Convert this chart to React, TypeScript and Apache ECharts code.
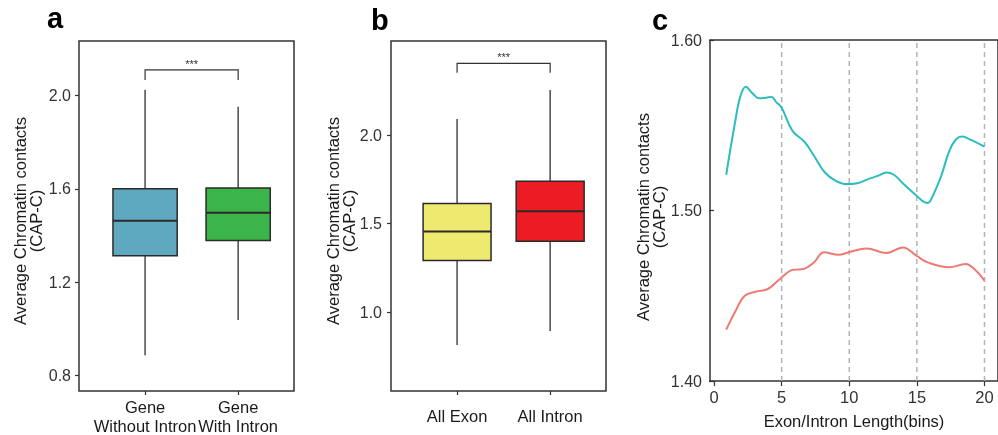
import React, { useEffect, useRef } from 'react';
import * as echarts from 'echarts';

// ---------- Panel a ----------
const catsA = ['Gene\nWithout Intron', 'Gene\nWith Intron'];
// [lower whisker, Q1, median, Q3, upper whisker]
const statsA = [
  [0.886, 1.313, 1.463, 1.600, 2.026],
  [1.037, 1.378, 1.497, 1.604, 1.953],
];
const colorsA = ['#5fa9c0', '#3bb54a'];
const ticksA = [0.8, 1.2, 1.6, 2.0];
const rangeA = [0.732, 2.235];
const bracketA = [1, 2, 2.111, 2.068];

// ---------- Panel b ----------
const catsB = ['All Exon', 'All Intron'];
const statsB = [
  [0.814, 1.291, 1.455, 1.613, 2.090],
  [0.893, 1.400, 1.569, 1.739, 2.254],
];
const colorsB = ['#eeea6f', '#ed1c24'];
const ticksB = [1.0, 1.5, 2.0];
const rangeB = [0.554, 2.531];
const bracketB = [1, 2, 2.405, 2.352];

const sigLabel = '***';
const yTitle = 'Average Chromatin contacts\n(CAP-C)';

// ---------- Panel c ----------
const xTitleC = 'Exon/Intron Length(bins)';
const ticksCx = [0, 5, 10, 15, 20];
const ticksCy = [1.4, 1.5, 1.6];
const gridLinesC = [5, 10, 15, 20];
const tealLine = [
  [0.9, 1.521], [1.55, 1.5516], [1.95, 1.5671], [2.35, 1.5726], [2.8, 1.5691],
  [3.35, 1.5658], [3.85, 1.5662], [4.25, 1.5666], [4.6, 1.5636], [5.0, 1.5603],
  [5.8, 1.5467], [6.7, 1.5402], [7.4, 1.532], [8.2, 1.5223], [9.0, 1.5174],
  [9.8, 1.5155], [10.6, 1.516], [11.4, 1.5184], [12.1, 1.5203], [12.75, 1.5223],
  [13.3, 1.521], [13.9, 1.5165], [14.5, 1.512], [15.0, 1.5086], [15.4, 1.5057],
  [15.8, 1.5044], [16.2, 1.509], [16.8, 1.5203], [17.4, 1.535], [17.9, 1.5418],
  [18.35, 1.5434], [19.0, 1.5414], [20.0, 1.5375],
];
const salmonLine = [
  [0.9, 1.4302], [1.6, 1.4413], [2.27, 1.4501], [3.12, 1.4525], [3.97, 1.454],
  [4.88, 1.4599], [5.8, 1.4652], [6.66, 1.4658], [7.4, 1.4697], [8.12, 1.4755],
  [9.22, 1.4741], [9.95, 1.4755], [11.29, 1.4778], [12.75, 1.4751], [13.97, 1.4784],
  [14.97, 1.4735], [15.8, 1.4696], [17.39, 1.4667], [18.6, 1.4687], [19.3, 1.4653],
  [20.0, 1.4589],
];

const FONT = '"Liberation Sans", Arial, Helvetica, sans-serif';
const TICK_COLOR = '#333';
const TITLE_COLOR = '#1a1a1a';

function boxRender(colors: string[], halfW: number) {
  return (params: any, api: any) => {
    const x = api.value(0);
    const low = api.coord([x, api.value(1)]);
    const q1 = api.coord([x, api.value(2)]);
    const med = api.coord([x, api.value(3)]);
    const q3 = api.coord([x, api.value(4)]);
    const high = api.coord([x, api.value(5)]);
    const left = api.coord([x - halfW, api.value(3)])[0];
    const right = api.coord([x + halfW, api.value(3)])[0];
    const cx = low[0];
    return {
      type: 'group',
      children: [
        { type: 'line', shape: { x1: cx, y1: high[1], x2: cx, y2: q3[1] }, style: { stroke: '#555', lineWidth: 1.6 } },
        { type: 'line', shape: { x1: cx, y1: q1[1], x2: cx, y2: low[1] }, style: { stroke: '#555', lineWidth: 1.6 } },
        {
          type: 'rect',
          shape: { x: left, y: q3[1], width: right - left, height: q1[1] - q3[1] },
          style: { fill: colors[params.dataIndex], stroke: '#2a2a2a', lineWidth: 1.5 },
        },
        { type: 'line', shape: { x1: left, y1: med[1], x2: right, y2: med[1] }, style: { stroke: '#2a2a2a', lineWidth: 2 } },
      ],
    };
  };
}

function bracketRender(params: any, api: any) {
  const x1 = api.value(0), x2 = api.value(1), y = api.value(2), d = api.value(3);
  const p1 = api.coord([x1, d]);
  const p2 = api.coord([x1, y]);
  const p3 = api.coord([x2, y]);
  const p4 = api.coord([x2, d]);
  return {
    type: 'group',
    children: [
      { type: 'polyline', shape: { points: [p1, p2, p3, p4] }, style: { stroke: '#333', lineWidth: 1.2, fill: null } },
      {
        type: 'text',
        x: (p2[0] + p3[0]) / 2,
        y: p2[1] - 0.5,
        style: { text: sigLabel, fontSize: 11, fontFamily: FONT, align: 'center', verticalAlign: 'bottom', fill: '#333' },
      },
    ],
  };
}

function gridLineRender(params: any, api: any) {
  const v = api.value(0);
  const a = api.coord([v, ticksCy[0]]);
  const b = api.coord([v, ticksCy[ticksCy.length - 1]]);
  return {
    type: 'line',
    shape: { x1: a[0], y1: a[1], x2: b[0], y2: b[1] },
    style: { stroke: '#b3b3b3', lineWidth: 1.5, lineDash: [5, 4] },
  };
}

function yAxisCfg(gridIndex: number, range: number[], ticks: number[], digits: number, margin: number) {
  return {
    type: 'value',
    gridIndex,
    min: range[0],
    max: range[1],
    axisLine: { show: false },
    splitLine: { show: false },
    axisTick: { show: true, customValues: ticks, length: 4, lineStyle: { color: TICK_COLOR, width: 1.2 } },
    axisLabel: {
      show: true,
      customValues: ticks,
      formatter: (v: number) => v.toFixed(digits),
      margin,
      fontSize: 16,
      fontFamily: FONT,
      color: TICK_COLOR,
    },
  };
}

function xBoxAxisCfg(gridIndex: number, cats: string[], margin: number) {
  return {
    type: 'value',
    gridIndex,
    min: 0.29,
    max: 2.6,
    axisLine: { show: false },
    splitLine: { show: false },
    axisTick: { show: true, customValues: [1, 2], length: 4, lineStyle: { color: TICK_COLOR, width: 1.2 } },
    axisLabel: {
      show: true,
      customValues: [1, 2],
      formatter: (v: number) => cats[Math.round(v) - 1],
      margin,
      fontSize: 16.5,
      lineHeight: 19,
      fontFamily: FONT,
      color: TITLE_COLOR,
    },
  };
}

export default function App() {
  const ref = useRef<HTMLDivElement>(null);
  useEffect(() => {
    if (!ref.current) return;
    const chart = echarts.init(ref.current, null, { renderer: 'svg' });
    const gridStyle = { show: true, borderColor: '#333', borderWidth: 1.5, backgroundColor: 'transparent' };
    chart.setOption({
      animation: false,
      grid: [
        { left: 79, top: 41, width: 215, height: 351, ...gridStyle },
        { left: 391, top: 41, width: 215, height: 350, ...gridStyle },
        { left: 710, top: 40, width: 291, height: 342, ...gridStyle },
      ],
      xAxis: [
        xBoxAxisCfg(0, catsA, 6),
        xBoxAxisCfg(1, catsB, 15),
        {
          type: 'value',
          gridIndex: 2,
          min: -0.3,
          max: 21,
          axisLine: { show: false },
          splitLine: { show: false },
          axisTick: { show: true, customValues: ticksCx, length: 5, lineStyle: { color: TICK_COLOR, width: 1.2 } },
          axisLabel: { show: true, customValues: ticksCx, margin: 6, fontSize: 16.5, lineHeight: 19, fontFamily: FONT, color: TICK_COLOR },
          name: xTitleC,
          nameLocation: 'middle',
          nameGap: 25,
          nameTextStyle: { fontSize: 16.5, lineHeight: 19, fontFamily: FONT, color: TITLE_COLOR },
        },
      ],
      yAxis: [
        yAxisCfg(0, rangeA, ticksA, 1, 8),
        yAxisCfg(1, rangeB, ticksB, 1, 9),
        {
          ...yAxisCfg(2, [ticksCy[0], ticksCy[ticksCy.length - 1]], ticksCy, 2, 8),
          axisTick: { show: true, customValues: ticksCy, length: 5, lineStyle: { color: TICK_COLOR, width: 1.2 } },
        },
      ],
      graphic: [
        { type: 'text', x: 47, y: 32, style: { text: 'a', fontSize: 29, fontWeight: 'bold', fontFamily: FONT, fill: '#000', verticalAlign: 'bottom' } },
        { type: 'text', x: 371, y: 34, style: { text: 'b', fontSize: 29, fontWeight: 'bold', fontFamily: FONT, fill: '#000', verticalAlign: 'bottom' } },
        { type: 'text', x: 652, y: 34, style: { text: 'c', fontSize: 29, fontWeight: 'bold', fontFamily: FONT, fill: '#000', verticalAlign: 'bottom' } },
        { type: 'text', x: 28, y: 221, rotation: Math.PI / 2, style: { text: yTitle, fontSize: 16.5, lineHeight: 16, fontFamily: FONT, fill: TITLE_COLOR, align: 'center', verticalAlign: 'middle' } },
        { type: 'text', x: 341, y: 221, rotation: Math.PI / 2, style: { text: yTitle, fontSize: 16.5, lineHeight: 16, fontFamily: FONT, fill: TITLE_COLOR, align: 'center', verticalAlign: 'middle' } },
        { type: 'text', x: 651, y: 217, rotation: Math.PI / 2, style: { text: yTitle, fontSize: 16.5, lineHeight: 16, fontFamily: FONT, fill: TITLE_COLOR, align: 'center', verticalAlign: 'middle' } },
      ],
      series: [
        {
          type: 'custom', xAxisIndex: 0, yAxisIndex: 0,
          renderItem: boxRender(colorsA, 0.345),
          encode: { x: 0, y: [1, 2, 3, 4, 5] },
          data: statsA.map((s, i) => [i + 1, ...s]),
        },
        {
          type: 'custom', xAxisIndex: 0, yAxisIndex: 0,
          renderItem: bracketRender,
          encode: { x: [0, 1], y: [2, 3] },
          data: [bracketA],
        },
        {
          type: 'custom', xAxisIndex: 1, yAxisIndex: 1,
          renderItem: boxRender(colorsB, 0.365),
          encode: { x: 0, y: [1, 2, 3, 4, 5] },
          data: statsB.map((s, i) => [i + 1, ...s]),
        },
        {
          type: 'custom', xAxisIndex: 1, yAxisIndex: 1,
          renderItem: bracketRender,
          encode: { x: [0, 1], y: [2, 3] },
          data: [bracketB],
        },
        {
          type: 'custom', xAxisIndex: 2, yAxisIndex: 2, z: 1,
          renderItem: gridLineRender,
          encode: { x: 0 },
          data: gridLinesC.map((v) => [v]),
        },
        {
          type: 'line', xAxisIndex: 2, yAxisIndex: 2, z: 3,
          data: tealLine, smooth: 0.4, showSymbol: false,
          lineStyle: { color: '#2dbdc1', width: 2 },
        },
        {
          type: 'line', xAxisIndex: 2, yAxisIndex: 2, z: 3,
          data: salmonLine, smooth: 0.4, showSymbol: false,
          lineStyle: { color: '#f07a72', width: 2 },
        },
      ],
    });
    return () => chart.dispose();
  }, []);
  return <div ref={ref} style={{ position: 'fixed', left: 0, top: 0, width: 998, height: 435 }} />;
}
